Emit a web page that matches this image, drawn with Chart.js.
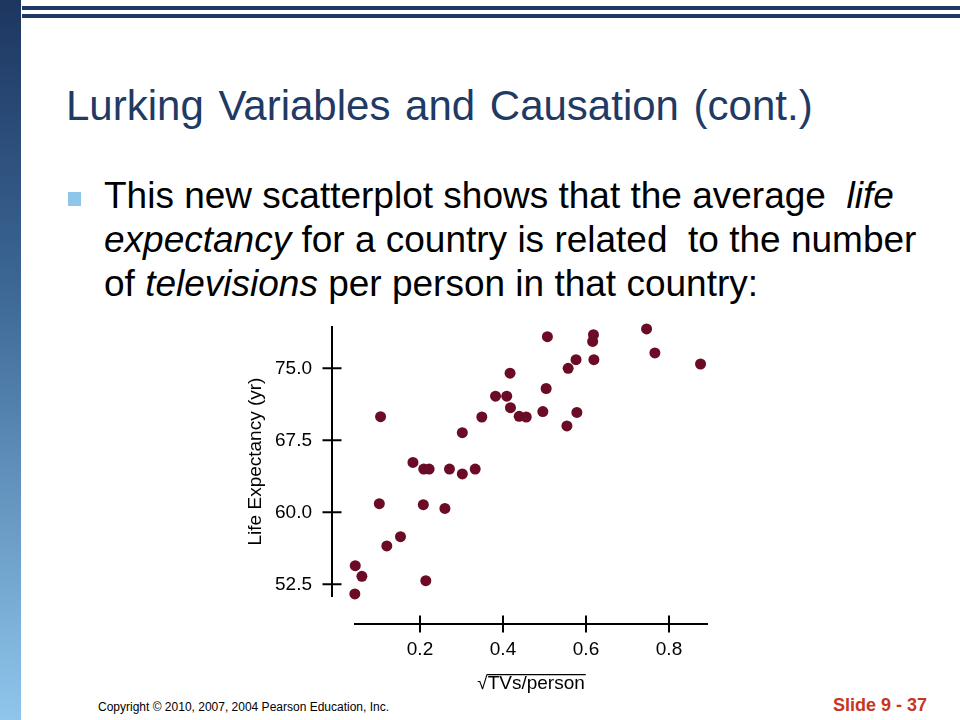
<!DOCTYPE html>
<html>
<head>
<meta charset="utf-8">
<script src="https://cdn.jsdelivr.net/npm/chart.js@4.4.0/dist/chart.umd.min.js"></script>
<style>
  html, body { margin:0; padding:0; background:#fff; }
  body { width:960px; height:720px; position:relative; overflow:hidden; font-family:"Liberation Sans", Arial, sans-serif; }
  .bar { position:absolute; left:0; top:0; width:21px; height:720px; background:linear-gradient(to bottom, #1d3660 0%, #3c6796 40%, #8fc6ec 100%); }
  .rule { position:absolute; left:22px; width:938px; height:4px; background:#1f3864; }
  .t { position:absolute; line-height:1; white-space:pre; margin:0; }
  .title { left:66px; top:85px; font-size:42px; word-spacing:3px; color:#1f3a64; }
  .body { left:104px; font-size:37px; color:#000; }
  .bullet { position:absolute; left:68px; top:192px; width:13px; height:14px; background:#8ec6ea; }
  .copy { left:98px; top:701px; font-size:12px; color:#000; }
  .slide { left:833px; top:696px; font-size:18px; font-weight:bold; color:#c8361c; }
  #chart { position:absolute; left:0; top:0; }
</style>
</head>
<body>
<div class="bar"></div>
<div class="rule" style="top:6px"></div>
<div class="rule" style="top:14px"></div>
<div class="t title">Lurking Variables and Causation (cont.)</div>
<div class="bullet"></div>
<div class="t body" style="top:177px">This new scatterplot shows that the average  <i>life</i></div>
<div class="t body" style="top:221px"><i>expectancy</i> for a country is related  to the number</div>
<div class="t body" style="top:265px">of <i>televisions</i> per person in that country:</div>
<div class="t copy">Copyright © 2010, 2007, 2004 Pearson Education, Inc.</div>
<div class="t slide">Slide 9 - 37</div>
<canvas id="chart" width="960" height="720"></canvas>
<script>
// sqrt(TVs/person)
const xValues = [0.507, 0.618, 0.616, 0.746, 0.766, 0.876, 0.576, 0.619, 0.557, 0.417,
                 0.504, 0.382, 0.409, 0.418, 0.439, 0.456, 0.496, 0.578, 0.554, 0.349,
                 0.105, 0.302, 0.183, 0.209, 0.222, 0.271, 0.302, 0.333, 0.102, 0.208,
                 0.260, 0.153, 0.120, 0.044, 0.060, 0.214, 0.043];
// Life expectancy (yr)
const yValues = [78.3, 78.5, 77.8, 79.1, 76.6, 75.45, 75.9, 75.9, 75.0, 74.5,
                 72.9, 72.1, 72.1, 70.9, 70.0, 69.93, 70.5, 70.4, 69.0, 69.93,
                 69.96, 68.3, 65.2, 64.5, 64.5, 64.5, 64.0, 64.5, 60.9, 60.8,
                 60.4, 57.46, 56.5, 54.44, 53.33, 52.88, 51.5];
const xTicks = [0.2, 0.4, 0.6, 0.8];
const yTicks = [52.5, 60.0, 67.5, 75.0];
const xTitle = '\u221ATVs/person';
const yTitle = 'Life Expectancy (yr)';

const fontFam = '"Liberation Sans", Arial, sans-serif';
const fontSize = 19;

const detachedAxes = {
  id: 'detachedAxes',
  beforeDatasetsDraw(chart) {
    const {ctx, chartArea, scales} = chart;
    const xs = scales.x, ys = scales.y;
    const yAxisX = chartArea.left - 22;
    const xAxisY = chartArea.bottom + 27;
    ctx.save();
    ctx.strokeStyle = '#000';
    ctx.lineWidth = 2;
    ctx.beginPath();
    ctx.moveTo(yAxisX, chartArea.top);
    ctx.lineTo(yAxisX, chartArea.bottom);
    ctx.moveTo(chartArea.left, xAxisY);
    ctx.lineTo(chartArea.right, xAxisY);
    yTicks.forEach(v => {
      const p = ys.getPixelForValue(v);
      ctx.moveTo(yAxisX - 9.5, p);
      ctx.lineTo(yAxisX + 9.5, p);
    });
    xTicks.forEach(v => {
      const p = xs.getPixelForValue(v);
      ctx.moveTo(p, xAxisY - 8.5);
      ctx.lineTo(p, xAxisY + 8.5);
    });
    ctx.stroke();
    ctx.restore();
  },
  afterDraw(chart) {
    // overline of the radical in the x-axis title
    const {ctx, chartArea, scales} = chart;
    const xs = scales.x;
    const opts = xs.options.title;
    const size = opts.font.size;
    const lh = size * 1.2;
    ctx.save();
    ctx.font = size + 'px ' + fontFam;
    ctx.textBaseline = 'middle';
    const full = ctx.measureText(xTitle).width;
    const m = ctx.measureText('\u221A');
    const cx = (chartArea.left + chartArea.right) / 2;
    const cy = xs.bottom - opts.padding.bottom - lh / 2;
    const y = cy - m.actualBoundingBoxAscent + 0.8;
    ctx.strokeStyle = '#000';
    ctx.lineWidth = 1.4;
    ctx.beginPath();
    ctx.moveTo(cx - full / 2 + m.width - 0.5, y);
    ctx.lineTo(cx + full / 2 + 1, y);
    ctx.stroke();
    ctx.restore();
  }
};

new Chart(document.getElementById('chart'), {
  type: 'scatter',
  data: {
    datasets: [{
      data: xValues.map((x, i) => ({x: x, y: yValues[i]})),
      backgroundColor: '#6b0b25',
      borderColor: '#6b0b25',
      borderWidth: 0,
      pointRadius: 5.5,
      pointHoverRadius: 5.5,
      clip: false
    }]
  },
  options: {
    responsive: false,
    animation: false,
    events: [],
    layout: { padding: { left: 240, top: 326, right: 252, bottom: 21 } },
    plugins: { legend: { display: false }, tooltip: { enabled: false } },
    scales: {
      x: {
        type: 'linear',
        min: 0.04096,
        max: 0.89398,
        afterFit: s => { s.height = 102; },
        afterBuildTicks: s => { s.ticks = xTicks.map(v => ({value: v})); },
        grid: { display: false, drawTicks: false },
        border: { display: false },
        ticks: { padding: 41, color: '#000', font: { family: fontFam, size: fontSize }, callback: v => v.toFixed(1) },
        title: { display: true, text: xTitle, color: '#000', font: { family: fontFam, size: fontSize }, padding: { top: 4, bottom: 4 } }
      },
      y: {
        type: 'linear',
        min: 51.177,
        max: 79.41,
        afterFit: s => { s.width = 114; },
        afterBuildTicks: s => { s.ticks = yTicks.map(v => ({value: v})); },
        grid: { display: false, drawTicks: false },
        border: { display: false },
        ticks: { padding: 42, color: '#000', font: { family: fontFam, size: fontSize }, callback: v => v.toFixed(1) },
        title: { display: true, text: yTitle, color: '#000', font: { family: fontFam, size: fontSize }, padding: { top: 4, bottom: 4 } }
      }
    }
  },
  plugins: [detachedAxes]
});
</script>
</body>
</html>
